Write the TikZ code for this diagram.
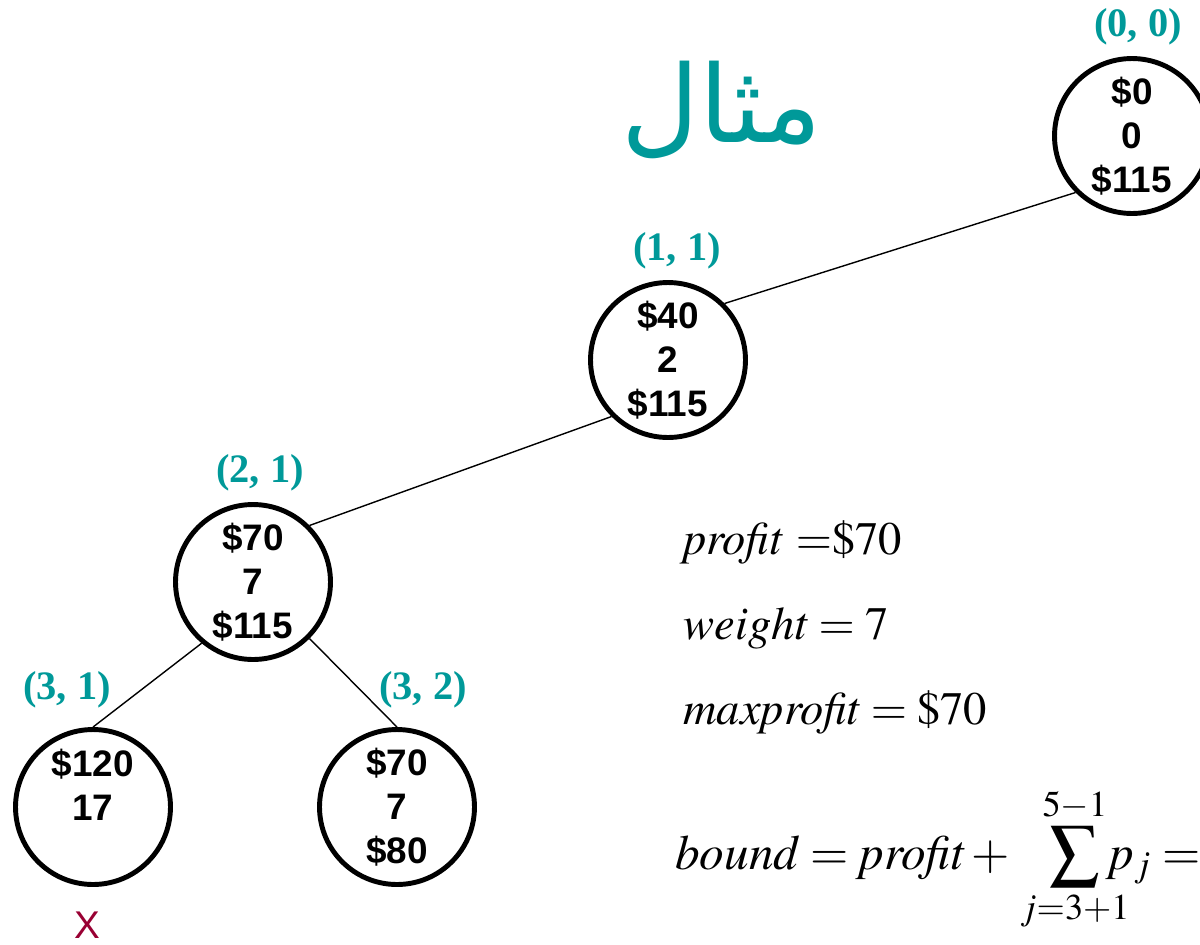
\documentclass[tikz,border=0pt]{standalone}
\usepackage{mathptmx}
\usepackage{mathtools}
\usepackage[no-math]{fontspec}
\setmainfont{Liberation Sans}
\newfontfamily\serifbf{Liberation Serif}
\newfontfamily\arabicfont[Script=Arabic]{DejaVu Sans}
\usepackage{xcolor}
\definecolor{tealtxt}{RGB}{0,153,153}
\definecolor{crossred}{RGB}{153,0,51}
\TeXXeTstate=1

\begin{document}
\begin{tikzpicture}[x=0.02cm,y=-0.02cm]
\tikzstyle{bnode}=[circle,draw=black,line width=2.8pt,inner sep=0pt,minimum size=3.1cm,align=center,font=\fontsize{21}{25}\selectfont\bfseries]
\tikzstyle{lvl}=[text=tealtxt,inner sep=0pt,label distance=0.22cm,font=\serifbf\fontsize{23}{26}\selectfont\bfseries]
\tikzstyle{edge}=[line width=0.8pt]
\tikzstyle{formula}=[anchor=base west,inner sep=0pt,font=\fontsize{26.5}{30}\selectfont]
\useasboundingbox (0,0) rectangle (1200,944);
\node[text=tealtxt,font=\arabicfont\fontsize{61}{68}\selectfont](ttl) at (722,110){\beginR مثال\endR};
\node[bnode,label={[lvl,xshift=0.12cm]above:(0, 0)}](n00) at (1132,136){\$0\\0\\\$115};
\node[bnode,label={[lvl,xshift=0.18cm]above:(1, 1)}](n11) at (668,360){\$40\\2\\\$115};
\node[bnode,label={[lvl,xshift=0.14cm]above:(2, 1)}](n21) at (253,582){\$70\\7\\\$115};
\node[bnode,label={[lvl,xshift=-0.52cm,label distance=0.38cm]above:(3, 1)}](n31) at (93,807){\$120\\17\\\phantom{0}};
\node[bnode,label={[lvl,xshift=0.52cm,label distance=0.38cm]above:(3, 2)}](n32) at (397,807){\$70\\7\\\$80};
\node[text=crossred,font=\fontsize{22}{26}\selectfont](cut) at (87,925){X};
\draw[edge] (n00.-135) -- (n11.45);
\draw[edge] (n11.-135) -- (n21.45);
\draw[edge] (n21.-130) -- (n31.north);
\draw[edge] (n21.-45) -- (n32.north);
\node[formula](fprof) at (683,554){$\mathit{profit}\ {=}\$70$};
\node[formula](fwt) at (683,639){$\mathit{weight}=7$};
\node[formula](fmax) at (683,724){$\mathit{maxprofit}=\$70$};
\node[formula,font=\fontsize{28}{32}\selectfont](fbnd) at (675,869){$\displaystyle\mathit{bound}=\mathit{profit}+\mkern12mu\sum_{\mathclap{j=3+1}}^{\mathclap{5-1}}p_{j}=$};
\end{tikzpicture}
\end{document}
